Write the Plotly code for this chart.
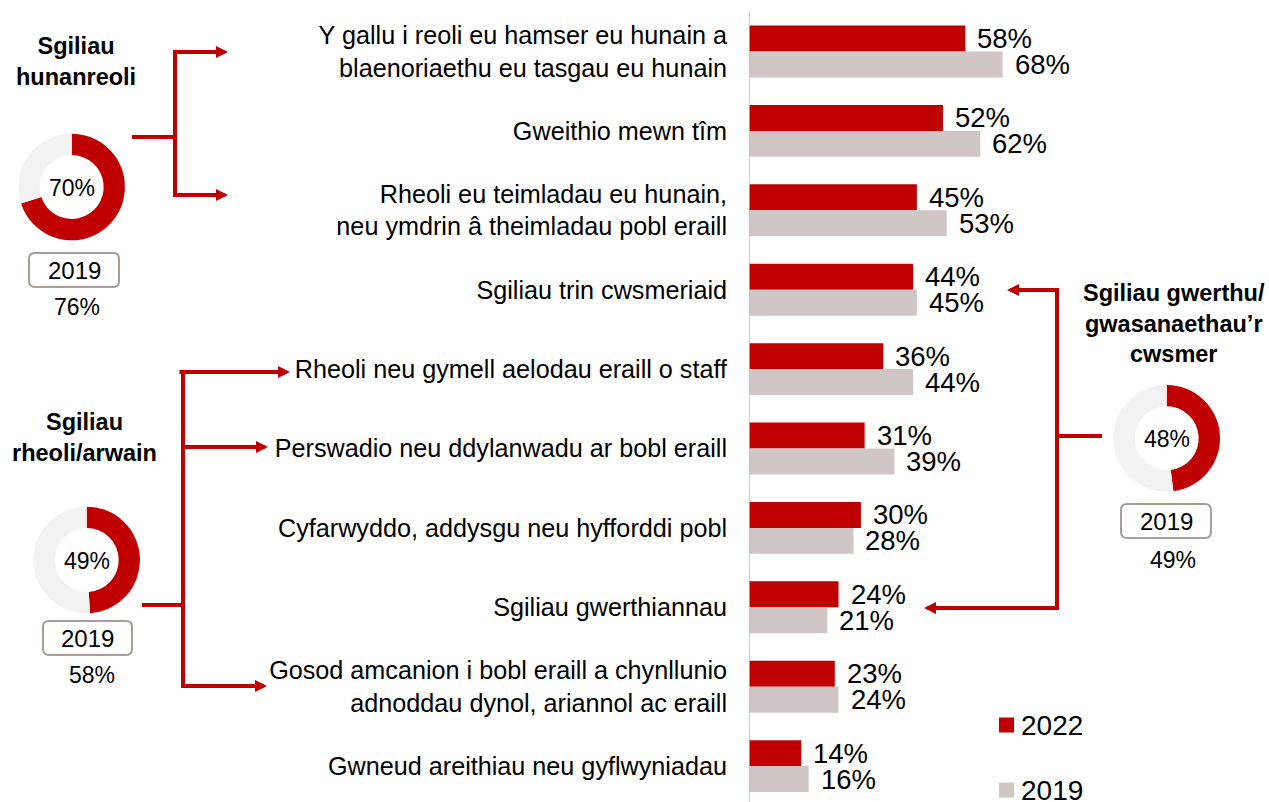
import plotly.graph_objects as go

W, H = 1269, 802

# ---- data -------------------------------------------------------------
categories = [
    "Y gallu i reoli eu hamser eu hunain a<br>blaenoriaethu eu tasgau eu hunain",
    "Gweithio mewn tîm",
    "Rheoli eu teimladau eu hunain,<br>neu ymdrin â theimladau pobl eraill",
    "Sgiliau trin cwsmeriaid",
    "Rheoli neu gymell aelodau eraill o staff",
    "Perswadio neu ddylanwadu ar bobl eraill",
    "Cyfarwyddo, addysgu neu hyfforddi pobl",
    "Sgiliau gwerthiannau",
    "Gosod amcanion i bobl eraill a chynllunio<br>adnoddau dynol, ariannol ac eraill",
    "Gwneud areithiau neu gyflwyniadau",
]
vals_2022 = [58, 52, 45, 44, 36, 31, 30, 24, 23, 14]
vals_2019 = [68, 62, 53, 45, 44, 39, 28, 21, 24, 16]

group_titles = [
    "Sgiliau<br>hunanreoli",
    "Sgiliau<br>rheoli/arwain",
    "Sgiliau gwerthu/<br>gwasanaethau’r<br>cwsmer",
]
group_2022 = [70, 49, 48]
group_2019 = [76, 58, 49]
year_labels = ["2022", "2019"]

# ---- style ------------------------------------------------------------
RED = "#C00000"
GREY = "#D0C6C6"
DONUT_BG = "#F2F2F2"
BOX_LINE = "#A89E99"
FONT = "Liberation Sans, Arial, sans-serif"
BAR_W = 0.327
X0_PX = 749          # pixel position of the value axis origin
PX_PER_PCT = 3.73


def px(x):
    return x / W


def py(y):
    return 1 - y / H


fig = go.Figure()

fig.add_trace(go.Bar(
    y=categories, x=vals_2022, orientation="h", name=year_labels[0],
    marker=dict(color=RED, line=dict(width=0)),
    offset=-BAR_W, width=BAR_W, hoverinfo="skip", showlegend=False,
))
fig.add_trace(go.Bar(
    y=categories, x=vals_2019, orientation="h", name=year_labels[1],
    marker=dict(color=GREY, line=dict(width=0)),
    offset=0, width=BAR_W, hoverinfo="skip", showlegend=False,
))

annotations = []
shapes = []

# value labels next to each bar
for i, (a, b) in enumerate(zip(vals_2022, vals_2019)):
    for v, yy in ((a, i - BAR_W / 2), (b, i + BAR_W / 2)):
        annotations.append(dict(
            x=v, y=yy, xref="x", yref="y", text=f"{v}%", showarrow=False,
            xanchor="left", yanchor="middle", xshift=10,
            font=dict(size=27.5, color="black", family=FONT),
        ))

# vertical axis line
shapes.append(dict(type="line", xref="x", yref="paper", x0=0, x1=0,
                   y0=0, y1=py(12), line=dict(color="#BFBFBF", width=1.5)))

# legend: coloured squares with year labels
legend_rows = [725, 790]
for label, colour, yc in zip(year_labels, [RED, GREY], legend_rows):
    shapes.append(dict(type="rect", xref="paper", yref="paper",
                       x0=px(999), x1=px(1014), y0=py(yc + 7.5), y1=py(yc - 7.5),
                       fillcolor=colour, line=dict(width=0)))
    annotations.append(dict(x=px(1019), y=py(yc), xref="paper", yref="paper",
                            text=label, showarrow=False, xanchor="left",
                            yanchor="middle",
                            font=dict(size=28, color="black", family=FONT)))

# ---- donuts with group summaries ---------------------------------------
donut_centres = [(71.7, 187), (86.7, 560), (1166.7, 438.3)]
R = 53.3
title_pos = [(76, 62), (84, 438), (1174, 324)]
box_pos = [(29, 253, 119, 287), (43, 621, 132, 655), (1121, 504, 1211, 538)]
below_pos = [(77, 307), (92, 675), (1173, 560)]


def rounded_rect(x0, y0, x1, y1, r=6):
    # pixel box -> paper path with rounded corners
    X = px
    Y = py
    return (f"M{X(x0 + r)},{Y(y0)} L{X(x1 - r)},{Y(y0)} Q{X(x1)},{Y(y0)} {X(x1)},{Y(y0 + r)} "
            f"L{X(x1)},{Y(y1 - r)} Q{X(x1)},{Y(y1)} {X(x1 - r)},{Y(y1)} "
            f"L{X(x0 + r)},{Y(y1)} Q{X(x0)},{Y(y1)} {X(x0)},{Y(y1 - r)} "
            f"L{X(x0)},{Y(y0 + r)} Q{X(x0)},{Y(y0)} {X(x0 + r)},{Y(y0)} Z")


def centred_text(x, y, text, size):
    annotations.append(dict(x=px(x), y=py(y), xref="paper", yref="paper",
                            text=text, showarrow=False, align="center",
                            xanchor="center", yanchor="middle",
                            font=dict(size=size, color="black", family=FONT)))


for k, (cx, cy) in enumerate(donut_centres):
    v = group_2022[k]
    fig.add_trace(go.Pie(
        values=[v, 100 - v], marker=dict(colors=[RED, DONUT_BG], line=dict(width=0)),
        hole=0.6, sort=False, direction="clockwise", rotation=0,
        textinfo="none", hoverinfo="skip", showlegend=False,
        domain=dict(x=[px(cx - R), px(cx + R)], y=[py(cy + R), py(cy - R)]),
    ))
    centred_text(cx, cy + 1, f"{v}%", 23)
    tx, ty = title_pos[k]
    centred_text(tx, ty, f"<b>{group_titles[k]}</b>", 23.5)
    bx0, by0, bx1, by1 = box_pos[k]
    shapes.append(dict(type="path", xref="paper", yref="paper",
                       path=rounded_rect(bx0, by0, bx1, by1),
                       line=dict(color=BOX_LINE, width=2), fillcolor="white"))
    centred_text((bx0 + bx1) / 2, (by0 + by1) / 2, year_labels[1], 24)
    bx, by = below_pos[k]
    centred_text(bx, by, f"{group_2019[k]}%", 23)

# ---- connector lines and arrows ----------------------------------------
LW = 4


def seg(x0, y0, x1, y1):
    shapes.append(dict(type="line", xref="paper", yref="paper",
                       x0=px(x0), y0=py(y0), x1=px(x1), y1=py(y1),
                       line=dict(color=RED, width=LW)))


def arrow(x0, y0, x1, y1):
    annotations.append(dict(x=px(x1), y=py(y1), xref="paper", yref="paper",
                            ax=x0 - x1, ay=y0 - y1, axref="pixel", ayref="pixel",
                            text="", showarrow=True, arrowhead=2, arrowsize=0.6,
                            arrowwidth=LW, arrowcolor=RED, standoff=0))


# self-management group
seg(132, 137, 175, 137)
seg(175, 50, 175, 197)
arrow(175, 52, 228, 52)
arrow(175, 195, 228, 195)

# management / leadership group
seg(142, 605, 183, 605)
seg(183, 370, 183, 688)
arrow(178, 372, 290, 372)
arrow(183, 447, 268, 447)
arrow(183, 686, 267, 686)

# sales / customer service group
seg(1057, 288, 1057, 610)
seg(1057, 436, 1102, 436)
arrow(1057, 290, 1007, 290)
arrow(1057, 608, 924, 608)

# ---- layout -----------------------------------------------------------
y_top = -51.5 / 79.4
fig.update_layout(
    width=W, height=H, autosize=False,
    margin=dict(l=0, r=0, t=0, b=0),
    paper_bgcolor="white", plot_bgcolor="white",
    font=dict(family=FONT, color="black"),
    barmode="overlay", showlegend=False,
    xaxis=dict(domain=[px(X0_PX), 1], range=[0, (W - X0_PX) / PX_PER_PCT],
               visible=False, fixedrange=True),
    yaxis=dict(type="category", categoryorder="array", categoryarray=categories,
               range=[y_top + H / 79.4, y_top], showgrid=False, zeroline=False,
               showline=False, ticks="", ticklabelstandoff=21, automargin=False,
               tickfont=dict(size=25.2, color="black", family=FONT)),
    annotations=annotations,
    shapes=shapes,
)

fig.write_html("out.html")
